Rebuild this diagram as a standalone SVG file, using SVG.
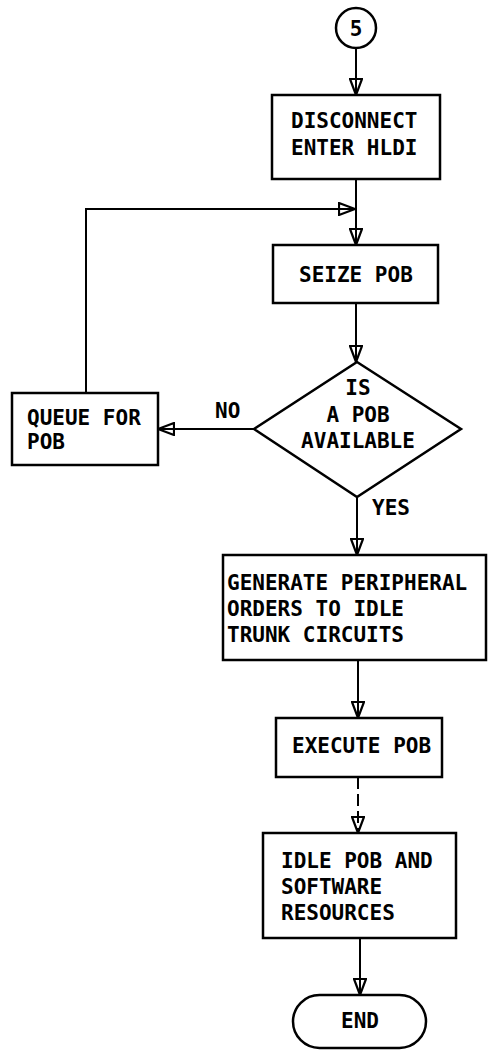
<svg xmlns="http://www.w3.org/2000/svg" width="488" height="1050" viewBox="0 0 488 1050">
<style>
.box{fill:#fff;stroke:#000;stroke-width:2.5}
.t{font-family:"DejaVu Sans Mono","Liberation Mono",monospace;font-size:21px;font-weight:bold;fill:#000}
.c{stroke:#000;stroke-width:2;fill:none}
.mid{text-anchor:middle}
</style>
<defs>
<marker id="ah" viewBox="0 0 18 14" refX="17" refY="7" markerWidth="18" markerHeight="14" markerUnits="userSpaceOnUse" orient="auto">
<path d="M1,1 L17,7 L1,13 Z" fill="none" stroke="#000" stroke-width="2.2" stroke-linejoin="miter"/>
</marker>
</defs>
<rect width="488" height="1050" fill="#fff"/>
<g id="connectors">
<line class="c" x1="356" y1="48" x2="356" y2="95" marker-end="url(#ah)"/>
<line class="c" x1="356" y1="179" x2="356" y2="245" marker-end="url(#ah)"/>
<polyline class="c" points="86,393 86,209 355,209" marker-end="url(#ah)"/>
<line class="c" x1="356" y1="303" x2="356" y2="362" marker-end="url(#ah)"/>
<line class="c" x1="254" y1="429" x2="158" y2="429" marker-end="url(#ah)"/>
<line class="c" x1="357" y1="497" x2="357" y2="555" marker-end="url(#ah)"/>
<line class="c" x1="358" y1="660" x2="358" y2="718" marker-end="url(#ah)"/>
<line class="c" x1="358" y1="777" x2="358" y2="833" stroke-dasharray="12 5" marker-end="url(#ah)"/>
<line class="c" x1="360" y1="938" x2="360" y2="995" marker-end="url(#ah)"/>
</g>
<g id="n5">
<circle cx="356" cy="28" r="20" class="box"/>
<text x="356" y="36" class="t mid">5</text>
</g>
<g id="disconnect">
<rect x="272" y="95" width="168" height="84" class="box"/>
<text x="291" y="128" class="t">DISCONNECT</text>
<text x="291" y="155" class="t">ENTER HLDI</text>
</g>
<g id="seize">
<rect x="273" y="245" width="165" height="58" class="box"/>
<text x="299" y="282" class="t">SEIZE POB</text>
</g>
<g id="decision">
<polygon points="357,362 461,429 357,497 254,429" class="box"/>
<text x="358" y="395" class="t mid">IS</text>
<text x="358" y="422" class="t mid">A POB</text>
<text x="358" y="448" class="t mid">AVAILABLE</text>
<text x="215" y="418" class="t">NO</text>
<text x="372" y="515" class="t">YES</text>
</g>
<g id="queue">
<rect x="12" y="393" width="146" height="72" class="box"/>
<text x="27" y="425" class="t">QUEUE FOR</text>
<text x="27" y="449" class="t">POB</text>
</g>
<g id="generate">
<rect x="223" y="555" width="263" height="105" class="box"/>
<text x="227" y="590" class="t">GENERATE PERIPHERAL</text>
<text x="227" y="616" class="t">ORDERS TO IDLE</text>
<text x="227" y="642" class="t">TRUNK CIRCUITS</text>
</g>
<g id="execute">
<rect x="276" y="718" width="166" height="59" class="box"/>
<text x="292" y="753" class="t">EXECUTE POB</text>
</g>
<g id="idle">
<rect x="263" y="833" width="193" height="105" class="box"/>
<text x="281" y="868" class="t">IDLE POB AND</text>
<text x="281" y="894" class="t">SOFTWARE</text>
<text x="281" y="920" class="t">RESOURCES</text>
</g>
<g id="end">
<rect x="293" y="995" width="133" height="53" rx="26.5" ry="26.5" class="box"/>
<text x="360" y="1028" class="t mid">END</text>
</g>
</svg>
